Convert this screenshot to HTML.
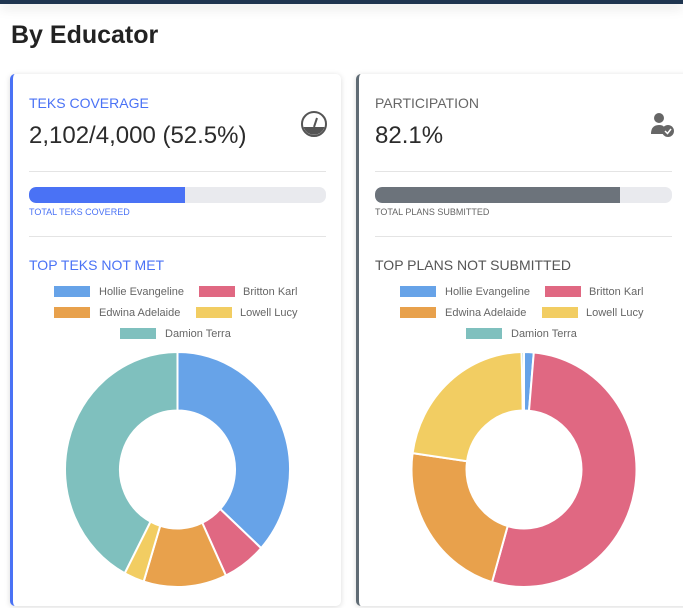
<!DOCTYPE html>
<html><head><meta charset="utf-8"><style>
*{margin:0;padding:0;box-sizing:border-box}
body{width:683px;height:608px;overflow:hidden;background:#fff;font-family:"Liberation Sans",sans-serif;position:relative}
.top{position:absolute;left:0;top:0;width:683px;height:4px;background:#1f3550;box-shadow:0 3px 12px rgba(0,0,0,.18)}
h1{position:absolute;left:11px;top:21px;font-size:25px;font-weight:600;color:#222}
.card{position:absolute;top:74px;height:532px;background:#fff;border-radius:5px;box-shadow:0 1px 6px rgba(0,0,0,.15)}
.l{left:10px;width:331px;border-left:3px solid #4a72f5}
.r{left:356px;width:340px;border-left:3px solid #5f6b74}
.t{position:absolute;font-size:14px;left:16px}
.v{position:absolute;font-size:24px;left:16px;top:48px;color:#2b2b2b}
.hr{position:absolute;left:16px;width:297px;height:1px;background:#e4e4e4}
.bar{position:absolute;left:16px;top:113px;width:297px;height:16px;border-radius:7px;background:#e9eaee;overflow:hidden}
.bar div{height:100%;border-radius:7px 0 0 7px}
.sm{position:absolute;left:16px;top:133px;font-size:9px}
.lg{position:absolute;font-size:11px;color:#666;white-space:nowrap}
.sw{position:absolute;width:36px;height:11px}
svg{position:absolute;left:0;top:0}
</style></head><body>
<div class="top"></div>
<h1>By Educator</h1>
<div class="card l">
<div class="t" style="top:21px;color:#4a72f5">TEKS COVERAGE</div>
<div class="v">2,102/4,000 (52.5%)</div>
<svg style="left:287px;top:36px" width="28" height="28" viewBox="0 0 28 28"><circle cx="14" cy="14" r="12" fill="none" stroke="#555" stroke-width="2"/><path d="M3.5 17 A11 11 0 0 0 24.5 17 Z" fill="#555"/><path d="M14 17 L17 8" stroke="#555" stroke-width="2"/></svg>
<div class="hr" style="top:97px"></div>
<div class="bar"><div style="width:156px;background:#4a72f5"></div></div>
<div class="sm" style="color:#4a72f5">TOTAL TEKS COVERED</div>
<div class="hr" style="top:162px"></div>
<div class="t" style="top:183px;color:#4a72f5">TOP TEKS NOT MET</div>
</div>
<div class="card r">
<div class="t" style="top:21px;color:#666">PARTICIPATION</div>
<div class="v">82.1%</div>
<svg style="left:290px;top:38px" width="26" height="26" viewBox="0 0 26 26"><circle cx="10" cy="6" r="5" fill="#666"/><path d="M2 22 Q2 13 10 13 Q14 13 15 15 L15 22Z" fill="#666"/><circle cx="19" cy="19" r="6" fill="#666"/><path d="M16 19 L18.5 21.5 L22 17" stroke="#fff" stroke-width="1.5" fill="none"/></svg>
<div class="hr" style="top:97px"></div>
<div class="bar"><div style="width:245px;background:#6c737b"></div></div>
<div class="sm" style="color:#666">TOTAL PLANS SUBMITTED</div>
<div class="hr" style="top:162px"></div>
<div class="t" style="top:183px;color:#555">TOP PLANS NOT SUBMITTED</div>
</div>
<div id="lg"></div>
<svg id="ch" width="683" height="608"></svg>
<script>
var C=['#67a3e8','#e06882','#e8a14c','#f2cd62','#7fc0be'];
var N=['Hollie Evangeline','Britton Karl','Edwina Adelaide','Lowell Lucy','Damion Terra'];
var pos=[[54,286],[199,286],[54,307],[196,307],[120,328]];
var tx=[99,243,99,240,165];
var h='';
[0,346].forEach(function(o){for(var i=0;i<5;i++){h+='<div class="sw" style="left:'+(pos[i][0]+o)+'px;top:'+pos[i][1]+'px;background:'+C[i]+'"></div><div class="lg" style="left:'+(tx[i]+o)+'px;top:'+(pos[i][1])+'px">'+N[i]+'</div>';}});
document.getElementById('lg').innerHTML=h;
function donut(cx,cy,rx,ry,irx,iry,angs){var s='',a0=0;
for(var i=0;i<5;i++){var a1=angs[i];if(a1-a0<0.01){continue;}
var r0=(a0-90)*Math.PI/180,r1=(a1-90)*Math.PI/180,lg=(a1-a0)>180?1:0;
var p='M'+(cx+rx*Math.cos(r0))+' '+(cy+ry*Math.sin(r0))+' A'+rx+' '+ry+' 0 '+lg+' 1 '+(cx+rx*Math.cos(r1))+' '+(cy+ry*Math.sin(r1))+' L'+(cx+irx*Math.cos(r1))+' '+(cy+iry*Math.sin(r1))+' A'+irx+' '+iry+' 0 '+lg+' 0 '+(cx+irx*Math.cos(r0))+' '+(cy+iry*Math.sin(r0))+'Z';
s+='<path d="'+p+'" fill="'+C[i]+'" stroke="#fff" stroke-width="2"/>';a0=a1;}
return s;}
document.getElementById('ch').innerHTML=donut(177.5,469.5,112.5,117.5,57.5,59,[132,154.5,197.5,208,360])+donut(524,469.5,112.5,117.5,57.5,59,[5,196.5,278,358.8,360]);
</script>
</body></html>
